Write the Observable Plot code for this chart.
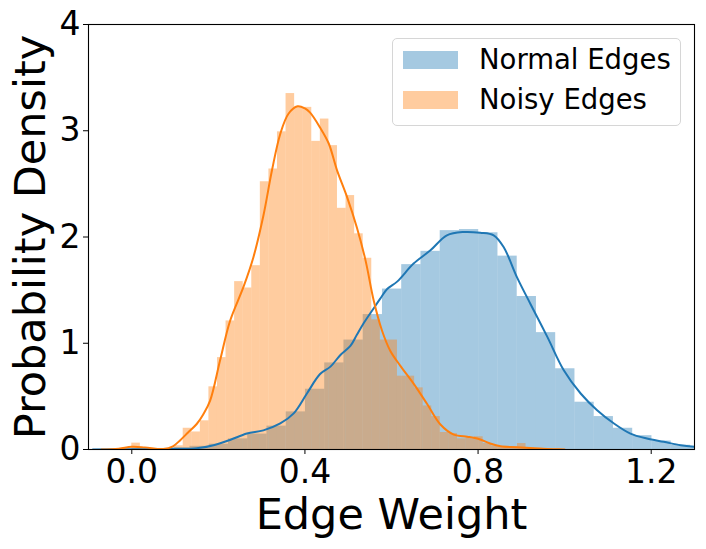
<!DOCTYPE html>
<html><head><meta charset="utf-8">
<script src="https://cdn.jsdelivr.net/npm/d3@7"></script>
<script src="https://cdn.jsdelivr.net/npm/@observablehq/plot@0.6"></script>
<style>
body{margin:0;background:#fff;font-family:"DejaVu Sans",sans-serif;}
#wrap{position:relative;width:706px;height:549px;}
.legend{position:absolute;left:392px;top:38px;width:287px;height:86px;border:1px solid #d6d6d6;border-radius:5px;background:rgba(255,255,255,0.8);font-family:"DejaVu Sans",sans-serif;font-size:27.5px;color:#000;}
.row{position:absolute;left:10px;height:18px;}
.sw{position:absolute;left:0;top:0;width:55px;height:18px;}
.lab{position:absolute;left:76px;top:-8px;white-space:nowrap;line-height:32px;}
</style></head><body><div id="wrap"></div>
<script>
const seriesNames = ["Normal Edges", "Noisy Edges"];
const seriesColors = ["#1f77b4", "#ff7f0e"];
const xTicks = [0, 0.4, 0.8, 1.2];
const yTicks = [0, 1, 2, 3, 4];

// Normal edges histogram (density per bin)
const normalBinStart = 0.001;
const normalBinWidth = 0.04447;
const normalHist = [0.005, 0.01, 0.015, 0.03, 0.05, 0.10, 0.145, 0.22, 0.354, 0.567,
  0.815, 1.03, 1.27, 1.51, 1.74, 1.865, 2.06, 2.07, 2.04, 1.82,
  1.44, 1.10, 0.76, 0.445, 0.31, 0.20, 0.13, 0.08, 0.04, 0.03];

// Noisy edges histogram (density per bin)
const noisyBinStart = 0.0;
const noisyBinWidth = 0.0198;
const noisyHist = [0.06, 0.01, 0.0, 0.0, 0.01, 0.035, 0.20, 0.165, 0.27, 0.59,
  0.865, 1.21, 1.58, 1.52, 1.73, 2.52, 2.64, 2.99, 3.35, 3.22,
  3.22, 2.90, 3.11, 2.86, 2.27, 2.39, 2.03, 1.80, 1.22, 1.03,
  1.03, 0.69, 0.69, 0.58, 0.41, 0.31, 0.16, 0.15, 0.10, 0.11,
  0.12, 0.056, 0.034, 0.025, 0.025, 0.056, 0.015, 0.01, 0.005, 0.005];

// KDE curves
const normalKdeX = [-0.09, 0.05, 0.10, 0.15, 0.189, 0.227, 0.266, 0.304, 0.343, 0.374, 0.405, 0.435, 0.459, 0.482, 0.505, 0.52, 0.536, 0.559, 0.574, 0.59, 0.613, 0.651, 0.69, 0.728, 0.767, 0.805, 0.836, 0.859, 0.89, 0.921, 0.96, 0.998, 1.037, 1.075, 1.114, 1.152, 1.19, 1.229, 1.268, 1.30, 1.34];
const normalKdeY = [0.0, 0.003, 0.006, 0.012, 0.04, 0.09, 0.15, 0.18, 0.245, 0.34, 0.53, 0.71, 0.78, 0.89, 0.975, 1.08, 1.19, 1.33, 1.42, 1.51, 1.58, 1.75, 1.875, 2.016, 2.047, 2.04, 2.016, 1.906, 1.62, 1.37, 1.06, 0.746, 0.527, 0.37, 0.245, 0.15, 0.103, 0.072, 0.04, 0.025, 0.015];
const noisyKdeX = [-0.07, -0.03, 0.0, 0.03, 0.073, 0.095, 0.112, 0.13, 0.15, 0.165, 0.181, 0.204, 0.227, 0.258, 0.281, 0.304, 0.324, 0.343, 0.362, 0.383, 0.40, 0.412, 0.435, 0.455, 0.474, 0.497, 0.52, 0.54, 0.559, 0.578, 0.597, 0.62, 0.651, 0.682, 0.713, 0.744, 0.775, 0.79, 0.805, 0.828, 0.852, 0.89, 0.92, 0.95, 0.98, 1.0];
const noisyKdeY = [0.0, 0.008, 0.025, 0.02, 0.005, 0.03, 0.088, 0.16, 0.24, 0.33, 0.46, 0.84, 1.21, 1.53, 1.81, 2.2, 2.63, 2.97, 3.16, 3.23, 3.21, 3.17, 3.03, 2.88, 2.63, 2.38, 2.09, 1.78, 1.40, 1.12, 0.93, 0.79, 0.62, 0.43, 0.235, 0.14, 0.12, 0.11, 0.094, 0.056, 0.03, 0.022, 0.014, 0.006, 0.002, 0.0];

const normalRows = normalHist.map((v, i) => ({x1: normalBinStart + i * normalBinWidth, x2: normalBinStart + (i + 1) * normalBinWidth, y: v}));
const noisyRows = noisyHist.map((v, i) => ({x1: noisyBinStart + i * noisyBinWidth, x2: noisyBinStart + (i + 1) * noisyBinWidth, y: v}));
const normalKde = normalKdeX.map((x, i) => ({x, y: normalKdeY[i]}));
const noisyKde = noisyKdeX.map((x, i) => ({x, y: noisyKdeY[i]}));

const chart = Plot.plot({
  width: 706,
  height: 549,
  marginLeft: 88,
  marginRight: 12,
  marginTop: 24,
  marginBottom: 100,
  x: {domain: [-0.1, 1.3]},
  y: {domain: [0, 4]},
  style: {fontFamily: "DejaVu Sans", background: "white", color: "black"},
  marks: [
    Plot.rect(normalRows, {x1: "x1", x2: "x2", y1: 0, y2: "y", fill: seriesColors[0], fillOpacity: 0.4, clip: true}),
    Plot.rect(noisyRows, {x1: "x1", x2: "x2", y1: 0, y2: "y", fill: seriesColors[1], fillOpacity: 0.4, clip: true}),
    Plot.line(normalKde, {x: "x", y: "y", stroke: seriesColors[0], strokeWidth: 2, clip: true, curve: "catmull-rom"}),
    Plot.line(noisyKde, {x: "x", y: "y", stroke: seriesColors[1], strokeWidth: 2, clip: true, curve: "catmull-rom"}),
    Plot.frame({stroke: "black", strokeWidth: 1.1}),
    Plot.axisX({ticks: xTicks, tickFormat: d3.format(".1f"), fontSize: 33, tickSize: 5, tickPadding: 5, label: null}),
    Plot.axisY({ticks: yTicks, tickFormat: d3.format("d"), fontSize: 33, tickSize: 5, tickPadding: 3, label: null}),
    Plot.text(["Edge Weight"], {frameAnchor: "bottom", dy: 79, fontSize: 43}),
    Plot.text(["Probability Density"], {frameAnchor: "left", textAnchor: "middle", rotate: -90, dx: -57, fontSize: 43})
  ]
});

const wrap = document.getElementById("wrap");
wrap.appendChild(chart);
const legend = document.createElement("div");
legend.className = "legend";
seriesNames.forEach((name, i) => {
  const row = document.createElement("div");
  row.className = "row";
  row.style.top = (12 + i * 40) + "px";
  const sw = document.createElement("div");
  sw.className = "sw";
  sw.style.background = seriesColors[i];
  sw.style.opacity = 0.4;
  const lab = document.createElement("div");
  lab.className = "lab";
  lab.textContent = name;
  row.appendChild(sw);
  row.appendChild(lab);
  legend.appendChild(row);
});
wrap.appendChild(legend);
</script>
</body></html>
